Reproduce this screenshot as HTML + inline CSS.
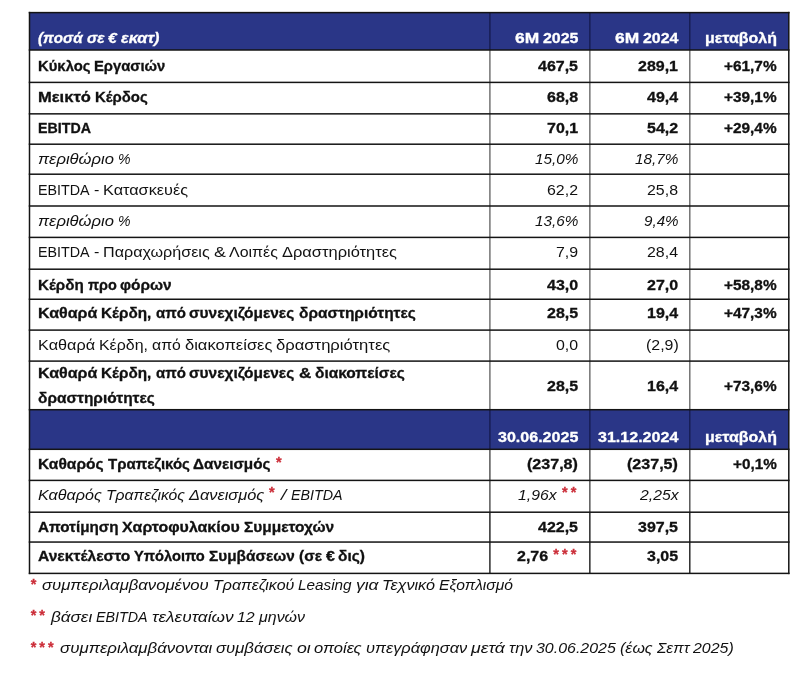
<!DOCTYPE html>
<html lang="el"><head><meta charset="utf-8"><title>Οικονομικά Αποτελέσματα</title>
<style>
html,body{margin:0;padding:0;background:#fff;}
body{width:800px;height:675px;position:relative;overflow:hidden;font-family:"Liberation Sans",sans-serif;color:#111;}
.t{position:absolute;white-space:pre;line-height:20px;height:20px;font-size:14.5px;}
.l{transform-origin:0 0;}
.r{transform-origin:100% 0;}
.B{font-weight:bold;-webkit-text-stroke:0.3px} .I{font-style:italic} .BI{font-weight:bold;font-style:italic;-webkit-text-stroke:0.3px}
.hl,.vl,.bx{position:absolute;background:#222;}
.bx{background:#2a3687;}
</style></head><body>
<svg width="800" height="675" viewBox="0 0 800 675" style="position:absolute;left:0;top:0"><rect x="29.50" y="12.60" width="759.30" height="37.40" fill="#2a3687"/><rect x="29.50" y="409.70" width="759.30" height="39.60" fill="#2a3687"/><rect x="28.75" y="11.85" width="1.50" height="562.30" fill="#141414"/><rect x="489.20" y="50.00" width="1.40" height="359.70" fill="#6a6a6a"/><rect x="489.20" y="449.30" width="1.40" height="62.90" fill="#4c4c4c"/><rect x="489.20" y="512.20" width="1.40" height="61.20" fill="#1e1e1e"/><rect x="489.20" y="12.60" width="1.40" height="37.40" fill="#161c52"/><rect x="489.20" y="409.70" width="1.40" height="39.60" fill="#161c52"/><rect x="589.15" y="50.00" width="1.40" height="359.70" fill="#6a6a6a"/><rect x="589.15" y="449.30" width="1.40" height="62.90" fill="#4c4c4c"/><rect x="589.15" y="512.20" width="1.40" height="61.20" fill="#1e1e1e"/><rect x="589.15" y="12.60" width="1.40" height="37.40" fill="#161c52"/><rect x="589.15" y="409.70" width="1.40" height="39.60" fill="#161c52"/><rect x="689.10" y="50.00" width="1.40" height="359.70" fill="#6a6a6a"/><rect x="689.10" y="449.30" width="1.40" height="62.90" fill="#4c4c4c"/><rect x="689.10" y="512.20" width="1.40" height="61.20" fill="#1e1e1e"/><rect x="689.10" y="12.60" width="1.40" height="37.40" fill="#161c52"/><rect x="689.10" y="409.70" width="1.40" height="39.60" fill="#161c52"/><rect x="788.05" y="11.85" width="1.50" height="562.30" fill="#141414"/><rect x="28.75" y="11.85" width="760.80" height="1.50" fill="#141414"/><rect x="28.75" y="49.25" width="760.80" height="1.50" fill="#141414"/><rect x="28.75" y="81.65" width="760.80" height="1.50" fill="#141414"/><rect x="28.75" y="113.10" width="760.80" height="1.50" fill="#141414"/><rect x="28.75" y="143.45" width="760.80" height="1.50" fill="#141414"/><rect x="28.75" y="173.45" width="760.80" height="1.50" fill="#141414"/><rect x="28.75" y="205.25" width="760.80" height="1.50" fill="#141414"/><rect x="28.75" y="236.65" width="760.80" height="1.50" fill="#141414"/><rect x="28.75" y="268.45" width="760.80" height="1.50" fill="#141414"/><rect x="28.75" y="298.50" width="760.80" height="1.50" fill="#141414"/><rect x="28.75" y="329.35" width="760.80" height="1.50" fill="#141414"/><rect x="28.75" y="360.35" width="760.80" height="1.50" fill="#141414"/><rect x="28.75" y="408.95" width="760.80" height="1.50" fill="#141414"/><rect x="28.75" y="448.55" width="760.80" height="1.50" fill="#141414"/><rect x="28.75" y="479.65" width="760.80" height="1.50" fill="#141414"/><rect x="28.75" y="511.45" width="760.80" height="1.50" fill="#141414"/><rect x="28.75" y="541.30" width="760.80" height="1.50" fill="#141414"/><rect x="28.75" y="572.65" width="760.80" height="1.50" fill="#141414"/></svg>
<div class="t l B" style="left:38.00px;top:55.98px;transform:scaleX(1.0237)">Κύκλος</div>
<div class="t l B" style="left:94.45px;top:55.98px;transform:scaleX(1.0208)">Εργασιών</div>
<div class="t l B" style="left:538.40px;top:55.98px;transform:scaleX(1.1024)">467,5</div>
<div class="t l B" style="left:638.40px;top:55.98px;transform:scaleX(1.1024)">289,1</div>
<div class="t l B" style="left:724.39px;top:55.98px;transform:scaleX(1.0610)">+61,7%</div>
<div class="t l B" style="left:38.00px;top:87.48px;transform:scaleX(1.1390)">Μεικτό</div>
<div class="t l B" style="left:94.81px;top:87.48px;transform:scaleX(1.0301)">Κέρδος</div>
<div class="t l B" style="left:547.27px;top:87.48px;transform:scaleX(1.1030)">68,8</div>
<div class="t l B" style="left:647.27px;top:87.48px;transform:scaleX(1.1030)">49,4</div>
<div class="t l B" style="left:724.39px;top:87.48px;transform:scaleX(1.0610)">+39,1%</div>
<div class="t l B" style="left:38.00px;top:118.33px;transform:scaleX(0.9804)">EBITDA</div>
<div class="t l B" style="left:547.27px;top:118.33px;transform:scaleX(1.1030)">70,1</div>
<div class="t l B" style="left:647.27px;top:118.33px;transform:scaleX(1.1030)">54,2</div>
<div class="t l B" style="left:724.39px;top:118.33px;transform:scaleX(1.0610)">+29,4%</div>
<div class="t l I" style="left:38.00px;top:149.48px;transform:scaleX(1.1437)">περιθώριο</div>
<div class="t l I" style="left:117.85px;top:149.48px;transform:scaleX(0.9705)">%</div>
<div class="t l I" style="left:534.90px;top:149.48px;transform:scaleX(1.0579)">15,0%</div>
<div class="t l I" style="left:634.90px;top:149.48px;transform:scaleX(1.0579)">18,7%</div>
<div class="t l" style="left:38.00px;top:180.18px;transform:scaleX(0.9862)">EBITDA</div>
<div class="t l" style="left:93.61px;top:180.18px;transform:scaleX(1.1098)">-</div>
<div class="t l" style="left:102.92px;top:180.18px;transform:scaleX(1.1209)">Κατασκευές</div>
<div class="t l" style="left:547.42px;top:180.18px;transform:scaleX(1.0979)">62,2</div>
<div class="t l" style="left:647.42px;top:180.18px;transform:scaleX(1.0979)">25,8</div>
<div class="t l I" style="left:38.00px;top:211.08px;transform:scaleX(1.1437)">περιθώριο</div>
<div class="t l I" style="left:117.85px;top:211.08px;transform:scaleX(0.9705)">%</div>
<div class="t l I" style="left:534.90px;top:211.08px;transform:scaleX(1.0579)">13,6%</div>
<div class="t l I" style="left:643.78px;top:211.08px;transform:scaleX(1.0476)">9,4%</div>
<div class="t l" style="left:38.00px;top:241.58px;transform:scaleX(0.9862)">EBITDA</div>
<div class="t l" style="left:93.61px;top:241.58px;transform:scaleX(1.1098)">-</div>
<div class="t l" style="left:102.92px;top:241.58px;transform:scaleX(1.1118)">Παραχωρήσεις</div>
<div class="t l" style="left:213.57px;top:241.58px;transform:scaleX(1.2345)">&amp;</div>
<div class="t l" style="left:229.47px;top:241.58px;transform:scaleX(1.1006)">Λοιπές</div>
<div class="t l" style="left:282.32px;top:241.58px;transform:scaleX(1.1348)">Δραστηριότητες</div>
<div class="t l" style="left:556.29px;top:241.58px;transform:scaleX(1.0969)">7,9</div>
<div class="t l" style="left:647.42px;top:241.58px;transform:scaleX(1.0979)">28,4</div>
<div class="t l B" style="left:38.00px;top:274.53px;transform:scaleX(1.0475)">Κέρδη</div>
<div class="t l B" style="left:87.67px;top:274.53px;transform:scaleX(0.9965)">προ</div>
<div class="t l B" style="left:120.45px;top:274.53px;transform:scaleX(1.0652)">φόρων</div>
<div class="t l B" style="left:547.27px;top:274.53px;transform:scaleX(1.1030)">43,0</div>
<div class="t l B" style="left:647.27px;top:274.53px;transform:scaleX(1.1030)">27,0</div>
<div class="t l B" style="left:724.39px;top:274.53px;transform:scaleX(1.0610)">+58,8%</div>
<div class="t l B" style="left:38.00px;top:303.38px;transform:scaleX(1.1067)">Καθαρά</div>
<div class="t l B" style="left:101.38px;top:303.38px;transform:scaleX(1.0537)">Κέρδη,</div>
<div class="t l B" style="left:155.55px;top:303.38px;transform:scaleX(1.0352)">από</div>
<div class="t l B" style="left:189.40px;top:303.38px;transform:scaleX(1.0666)">συνεχιζόμενες</div>
<div class="t l B" style="left:298.57px;top:303.38px;transform:scaleX(1.0662)">δραστηριότητες</div>
<div class="t l B" style="left:547.27px;top:303.38px;transform:scaleX(1.1030)">28,5</div>
<div class="t l B" style="left:647.27px;top:303.38px;transform:scaleX(1.1030)">19,4</div>
<div class="t l B" style="left:724.39px;top:303.38px;transform:scaleX(1.0610)">+47,3%</div>
<div class="t l" style="left:38.00px;top:335.08px;transform:scaleX(1.1206)">Καθαρά</div>
<div class="t l" style="left:99.06px;top:335.08px;transform:scaleX(1.0978)">Κέρδη,</div>
<div class="t l" style="left:151.92px;top:335.08px;transform:scaleX(1.0902)">από</div>
<div class="t l" style="left:184.72px;top:335.08px;transform:scaleX(1.1401)">διακοπείσες</div>
<div class="t l" style="left:276.12px;top:335.08px;transform:scaleX(1.1460)">δραστηριότητες</div>
<div class="t l" style="left:556.29px;top:335.08px;transform:scaleX(1.0969)">0,0</div>
<div class="t l" style="left:645.67px;top:335.08px;transform:scaleX(1.0977)">(2,9)</div>
<div class="t l B" style="left:38.00px;top:517.03px;transform:scaleX(1.0501)">Αποτίμηση</div>
<div class="t l B" style="left:122.43px;top:517.03px;transform:scaleX(1.0986)">Χαρτοφυλακίου</div>
<div class="t l B" style="left:244.05px;top:517.03px;transform:scaleX(1.0663)">Συμμετοχών</div>
<div class="t l B" style="left:538.40px;top:517.03px;transform:scaleX(1.1024)">422,5</div>
<div class="t l B" style="left:638.40px;top:517.03px;transform:scaleX(1.1024)">397,5</div>
<div class="t l BI" style="left:38.00px;top:27.88px;color:#fff;transform:scaleX(1.0459)">(ποσά</div>
<div class="t l BI" style="left:86.54px;top:27.88px;color:#fff;transform:scaleX(1.0590)">σε</div>
<div class="t l BI" style="left:108.03px;top:27.88px;color:#fff;transform:scaleX(1.1001)">€</div>
<div class="t l BI" style="left:120.86px;top:27.88px;color:#fff;transform:scaleX(1.1200)">εκατ)</div>
<div class="t l B" style="left:514.78px;top:27.88px;color:#fff;transform:scaleX(1.2000)">6M</div>
<div class="t l B" style="left:542.91px;top:27.88px;color:#fff;transform:scaleX(1.1001)">2025</div>
<div class="t l B" style="left:614.78px;top:27.88px;color:#fff;transform:scaleX(1.2000)">6M</div>
<div class="t l B" style="left:642.91px;top:27.88px;color:#fff;transform:scaleX(1.1001)">2024</div>
<div class="t l B" style="left:705.08px;top:27.88px;color:#fff;transform:scaleX(1.1003)">μεταβολή</div>
<div class="t l B" style="left:38.00px;top:362.58px;transform:scaleX(1.1067)">Καθαρά</div>
<div class="t l B" style="left:101.38px;top:362.58px;transform:scaleX(1.0537)">Κέρδη,</div>
<div class="t l B" style="left:155.55px;top:362.58px;transform:scaleX(1.0352)">από</div>
<div class="t l B" style="left:189.40px;top:362.58px;transform:scaleX(1.0666)">συνεχιζόμενες</div>
<div class="t l B" style="left:298.57px;top:362.58px;transform:scaleX(1.1778)">&amp;</div>
<div class="t l B" style="left:314.86px;top:362.58px;transform:scaleX(1.0677)">διακοπείσες</div>
<div class="t l B" style="left:38.00px;top:387.58px;transform:scaleX(1.0662)">δραστηριότητες</div>
<div class="t l B" style="left:547.27px;top:375.68px;transform:scaleX(1.1030)">28,5</div>
<div class="t l B" style="left:647.27px;top:375.68px;transform:scaleX(1.1030)">16,4</div>
<div class="t l B" style="left:724.39px;top:375.68px;transform:scaleX(1.0610)">+73,6%</div>
<div class="t l B" style="left:498.08px;top:426.88px;color:#fff;transform:scaleX(1.1068)">30.06.2025</div>
<div class="t l B" style="left:598.08px;top:426.88px;color:#fff;transform:scaleX(1.1068)">31.12.2024</div>
<div class="t l B" style="left:705.08px;top:426.88px;color:#fff;transform:scaleX(1.1003)">μεταβολή</div>
<div class="t l B" style="left:38.00px;top:454.28px;transform:scaleX(1.0725)">Καθαρός</div>
<div class="t l B" style="left:107.56px;top:454.28px;transform:scaleX(1.0357)">Τραπεζικός</div>
<div class="t l B" style="left:193.43px;top:454.28px;transform:scaleX(1.0541)">Δανεισμός</div>
<div class="t l B" style="left:275.90px;top:451.78px;color:#cc2f3a;letter-spacing:3.08px">*</div>
<div class="t l B" style="left:527.49px;top:454.28px;transform:scaleX(1.1080)">(237,8)</div>
<div class="t l B" style="left:627.49px;top:454.28px;transform:scaleX(1.1080)">(237,5)</div>
<div class="t l B" style="left:733.27px;top:454.28px;transform:scaleX(1.0534)">+0,1%</div>
<div class="t l I" style="left:38.00px;top:484.88px;transform:scaleX(1.1117)">Καθαρός</div>
<div class="t l I" style="left:105.68px;top:484.88px;transform:scaleX(1.0850)">Τραπεζικός</div>
<div class="t l I" style="left:188.66px;top:484.88px;transform:scaleX(1.1288)">Δανεισμός</div>
<div class="t l B" style="left:268.89px;top:482.38px;color:#cc2f3a;letter-spacing:3.08px">*</div>
<div class="t l I" style="left:281.30px;top:484.88px;transform:scaleX(1.3000)">/</div>
<div class="t l I" style="left:291.27px;top:484.88px;transform:scaleX(0.9859)">EBITDA</div>
<div class="t l I" style="left:518.44px;top:484.88px;transform:scaleX(1.0872)">1,96x</div>
<div class="t l B" style="left:562.00px;top:482.38px;color:#cc2f3a;letter-spacing:3.08px">**</div>
<div class="t l I" style="left:639.84px;top:484.88px;transform:scaleX(1.0872)">2,25x</div>
<div class="t l B" style="left:38.00px;top:546.13px;transform:scaleX(1.0759)">Ανεκτέλεστο</div>
<div class="t l B" style="left:134.24px;top:546.13px;transform:scaleX(1.0121)">Υπόλοιπο</div>
<div class="t l B" style="left:209.00px;top:546.13px;transform:scaleX(1.0598)">Συμβάσεων</div>
<div class="t l B" style="left:298.68px;top:546.13px;transform:scaleX(1.0629)">(σε</div>
<div class="t l B" style="left:325.63px;top:546.13px;transform:scaleX(1.1001)">€</div>
<div class="t l B" style="left:338.46px;top:546.13px;transform:scaleX(1.0681)">δις)</div>
<div class="t l B" style="left:517.16px;top:546.13px;transform:scaleX(1.1030)">2,76</div>
<div class="t l B" style="left:553.28px;top:543.63px;color:#cc2f3a;letter-spacing:3.08px">***</div>
<div class="t l B" style="left:647.27px;top:546.13px;transform:scaleX(1.1030)">3,05</div>
<div class="t l B" style="left:30.64px;top:574.08px;color:#cc2f3a;letter-spacing:3.08px">*</div>
<div class="t l I" style="left:42.28px;top:575.48px;transform:scaleX(1.1505)">συμπεριλαμβανομένου</div>
<div class="t l I" style="left:212.92px;top:575.48px;transform:scaleX(1.1025)">Τραπεζικού</div>
<div class="t l I" style="left:298.20px;top:575.48px;transform:scaleX(1.0542)">Leasing</div>
<div class="t l I" style="left:355.70px;top:575.48px;transform:scaleX(1.2003)">για</div>
<div class="t l I" style="left:382.15px;top:575.48px;transform:scaleX(1.1183)">Τεχνικό</div>
<div class="t l I" style="left:439.16px;top:575.48px;transform:scaleX(1.0783)">Εξοπλισμό</div>
<div class="t l B" style="left:30.64px;top:605.28px;color:#cc2f3a;letter-spacing:3.08px">**</div>
<div class="t l I" style="left:50.99px;top:606.68px;transform:scaleX(1.1807)">βάσει</div>
<div class="t l I" style="left:96.15px;top:606.68px;transform:scaleX(0.9859)">EBITDA</div>
<div class="t l I" style="left:151.74px;top:606.68px;transform:scaleX(1.1917)">τελευταίων</div>
<div class="t l I" style="left:237.36px;top:606.68px;transform:scaleX(1.1001)">12</div>
<div class="t l I" style="left:259.06px;top:606.68px;transform:scaleX(1.1023)">μηνών</div>
<div class="t l B" style="left:30.64px;top:636.58px;color:#cc2f3a;letter-spacing:3.08px">***</div>
<div class="t l I" style="left:59.71px;top:637.98px;transform:scaleX(1.1608)">συμπεριλαμβάνονται</div>
<div class="t l I" style="left:216.02px;top:637.98px;transform:scaleX(1.1499)">συμβάσεις</div>
<div class="t l I" style="left:296.56px;top:637.98px;transform:scaleX(1.2216)">οι</div>
<div class="t l I" style="left:314.31px;top:637.98px;transform:scaleX(1.1420)">οποίες</div>
<div class="t l I" style="left:365.87px;top:637.98px;transform:scaleX(1.1296)">υπεγράφησαν</div>
<div class="t l I" style="left:471.10px;top:637.98px;transform:scaleX(1.2219)">μετά</div>
<div class="t l I" style="left:509.03px;top:637.98px;transform:scaleX(1.1313)">την</div>
<div class="t l I" style="left:536.43px;top:637.98px;transform:scaleX(1.0998)">30.06.2025</div>
<div class="t l I" style="left:620.20px;top:637.98px;transform:scaleX(1.1053)">(έως</div>
<div class="t l I" style="left:656.81px;top:637.98px;transform:scaleX(1.0745)">Σεπτ</div>
<div class="t l I" style="left:693.22px;top:637.98px;transform:scaleX(1.1000)">2025)</div>
</body></html>
